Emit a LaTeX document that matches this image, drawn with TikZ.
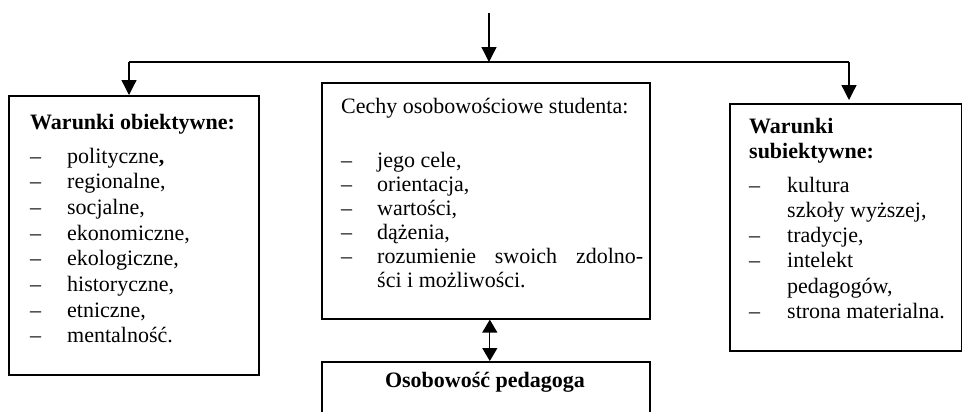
\documentclass[tikz,border=0pt]{standalone}
\usepackage{fontspec}
\setmainfont{Liberation Serif}
\usetikzlibrary{arrows.meta,calc}
\tikzset{
  box/.style={draw, line width=1.6bp, inner sep=0pt, anchor=north west},
  txt/.style={inner sep=0pt, anchor=base west},
  conn/.style={line width=1.3bp, -{Triangle[width=15bp,length=15bp]}},
  plainline/.style={line width=1.3bp},
  dconn/.style={line width=1.3bp, {Triangle[width=15bp,length=13bp]}-{Triangle[width=15bp,length=13bp]}}
}
\newcommand{\itm}[2]{\makebox[#1][l]{–}#2}
\begin{document}
\begin{tikzpicture}[x=1bp,y=-1bp]
\useasboundingbox (0,0) rectangle (963,411);
\fill[white] (0,0) rectangle (963,411);
\clip (0,0) rectangle (963,411);
% boxes
\node[box, minimum width=250bp, minimum height=279bp] (L) at (8,95) {};
\node[box, minimum width=328bp, minimum height=236bp] (C) at (321,82) {};
\node[box, minimum width=231.5bp, minimum height=247bp] (R) at (729,103) {};
\node[box, minimum width=328bp, minimum height=80bp] (B) at (321,361) {};
% texts
\node[txt] (Lt) at (30,129) {\fontsize{22bp}{25.7bp}\selectfont\parbox[t]{225bp}{%
\textbf{Warunki obiektywne:}\\[8.3bp]
\itm{37bp}{polityczne\textbf{,}}\\
\itm{37bp}{regionalne,}\\
\itm{37bp}{socjalne,}\\
\itm{37bp}{ekonomiczne,}\\
\itm{37bp}{ekologiczne,}\\
\itm{37bp}{historyczne,}\\
\itm{37bp}{etniczne,}\\
\itm{37bp}{mentalność.}}};
\node[txt] (Ct) at (341,113) {\fontsize{22bp}{24bp}\selectfont\parbox[t]{305bp}{%
Cechy osobowościowe studenta:\\[30bp]
\itm{36bp}{jego cele,}\\
\itm{36bp}{orientacja,}\\
\itm{36bp}{wartości,}\\
\itm{36bp}{dążenia,}\\
\itm{36bp}{\hbox to 266bp{rozumienie\hfil swoich\hfil zdolno-}}\\
\hspace*{36bp}ści i możliwości.}};
\node[txt] (Rt) at (749,133) {\fontsize{22bp}{25.2bp}\selectfont\parbox[t]{205bp}{%
\textbf{Warunki}\\
\textbf{subiektywne:}\\[8.8bp]
\itm{38bp}{kultura}\\
\hspace*{38bp}szkoły wyższej,\\
\itm{38bp}{tradycje,}\\
\itm{38bp}{intelekt}\\
\hspace*{38bp}pedagogów,\\
\itm{38bp}{strona materialna.}}};
\node[inner sep=0pt, anchor=base, font=\fontsize{22bp}{25bp}\selectfont\bfseries] (Bt) at (485,387) {Osobowość pedagoga};
% connectors
\coordinate (top) at (489,13);
\coordinate (j) at (489,62);
\coordinate (jl) at (129,62);
\coordinate (jr) at (849,62);
\draw[conn] (top) -- (j);
\draw[plainline] (jl) -- (jr);
\draw[conn] (jl) -- (jl |- L.north);
\draw[conn, shorten >=3bp] (jr) -- (jr |- R.north);
\draw[dconn] ([xshift=4bp]C.south) -- ([xshift=4bp]B.north);
\end{tikzpicture}
\end{document}
